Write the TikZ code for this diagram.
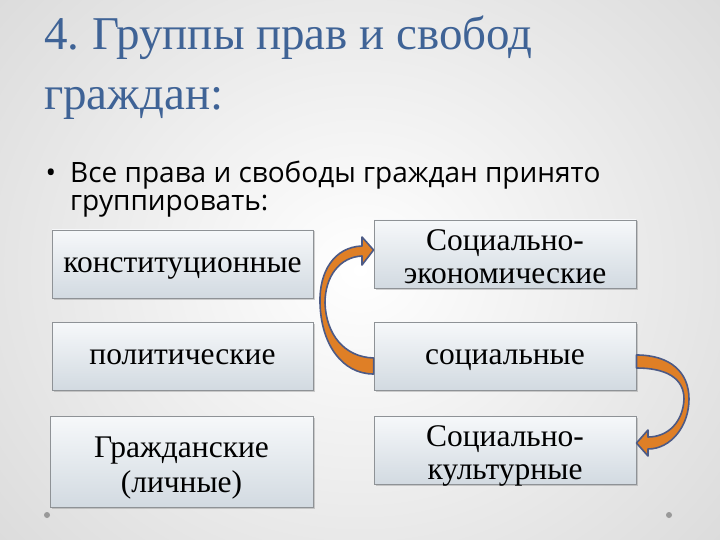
\documentclass[tikz,border=0pt]{standalone}
\usepackage{fontspec}
\setmainfont{Liberation Serif}
\newfontfamily\bulletfont{Open Sans}
\usetikzlibrary{shadows}
\definecolor{titleblue}{HTML}{3F6396}
\definecolor{boxtop}{HTML}{F6F8FA}
\definecolor{boxbot}{HTML}{D2DAE1}
\definecolor{boxline}{HTML}{8E9296}
\definecolor{arrowfill}{HTML}{DF7F26}
\definecolor{arrowline}{HTML}{4C5A86}
\newcommand{\toppad}{\rule{0pt}{26pt}}
\tikzset{
  box/.style={draw=boxline, line width=0.9pt, top color=boxtop, bottom color=boxbot,
    align=center, font=\fontsize{31.5}{33}\selectfont, inner sep=0pt,
    drop shadow={shadow xshift=1.5pt, shadow yshift=-1.5pt, opacity=0.35, fill=gray}},
  oneline/.style={text height=22pt, text depth=6pt},
  twoline/.style={text depth=0pt},
  curvearrow/.style={fill=arrowfill, draw=arrowline, line width=1.6pt, line join=round},
  titletext/.style={anchor=base west, text=titleblue, font=\fontsize{47}{50}\selectfont, inner sep=0pt},
  bullettext/.style={anchor=base west, font=\bulletfont\fontsize{28}{30}\selectfont, inner sep=0pt},
  dot/.style={circle, fill=gray!80, inner sep=0pt, minimum size=6pt}
}
\begin{document}
\begin{tikzpicture}[x=1pt, y=-1pt]
\useasboundingbox (0,0) rectangle (720,540);
\shade[inner color=white, outer color=black!14] (-120,-160) rectangle (840,700);
% title
\node[titletext] (t1) at (44,50) {4.\hspace{-3pt} Группы прав и свобод};
\node[titletext] (t2) at (44,110) {граждан:};
% bullet
\node[bullettext, anchor=base] (bul) at (51,183) {•};
\node[bullettext] (b1) at (70,183) {Все права и свободы граждан принято};
\node[bullettext] (b2) at (70,211) {группировать:};
% boxes
\node[box, oneline, minimum width=261pt, minimum height=68pt] (k) at (182.5,264) {конституционные};
\node[box, oneline, minimum width=261pt, minimum height=68pt] (p) at (182.5,356) {политические};
\node[box, twoline, minimum width=263pt, minimum height=91pt] (g) at (181.5,462) {\toppad Гражданские\\[2pt](личные)};
\node[box, twoline, minimum width=262pt, minimum height=68pt] (se) at (505,254) {\toppad Социально-\\экономические};
\node[box, oneline, minimum width=262pt, minimum height=68pt] (s) at (505,356) {социальные};
\node[box, twoline, minimum width=262pt, minimum height=68pt] (sk) at (505,450) {\toppad Социально-\\культурные};
% curved arrows
\draw[curvearrow] ([yshift=-2pt]s.west) .. controls (344,357) and (326,334) .. (325,303)
  .. controls (325,276) and (340,257) .. (362,256) -- (362,265) -- ([yshift=4pt]se.west) -- (362,237) -- (362,246)
  .. controls (334,247) and (319,272) .. (320,303)
  .. controls (321,344) and (342,374) .. ([yshift=-18pt]s.west) -- cycle;
\draw[curvearrow] ([yshift=1pt]s.east) .. controls (670,355) and (689,372) .. (689,399)
  .. controls (689,426) and (671,449) .. (648,449) -- (648,456) -- ([yshift=7pt]sk.east) -- (648,430) -- (648,437)
  .. controls (668,437) and (683,422) .. (684,399)
  .. controls (684,378) and (666,368) .. ([yshift=-12pt]s.east) -- cycle;
% decorative dots
\node[dot] (d1) at (47,515) {};
\node[dot] (d2) at (669,515) {};
\end{tikzpicture}
\end{document}
